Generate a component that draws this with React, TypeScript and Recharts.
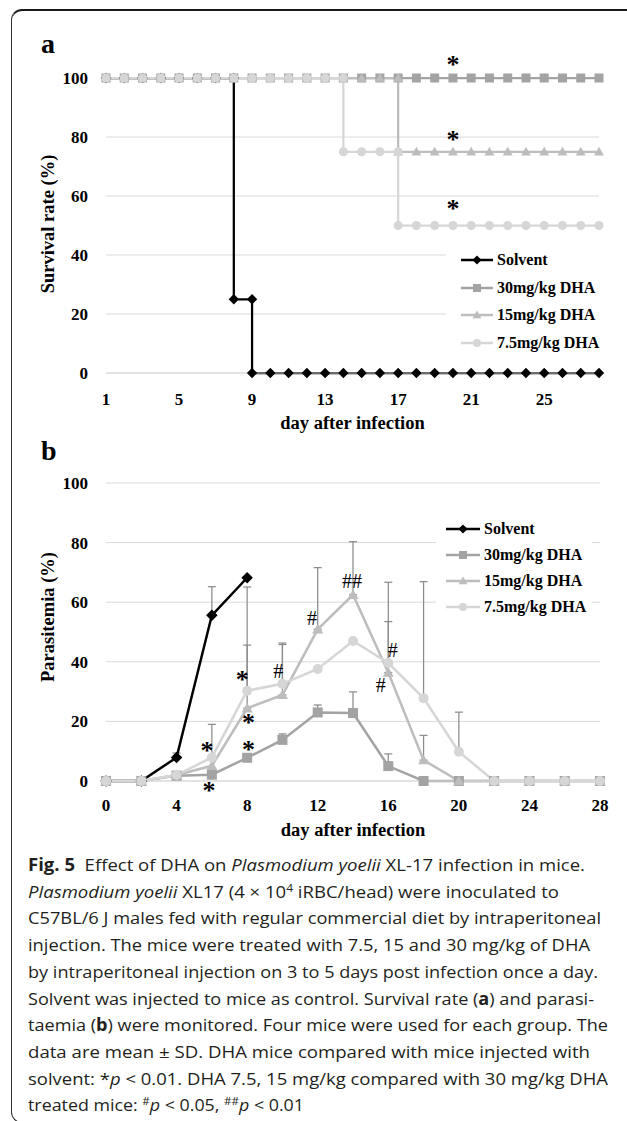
import { CartesianGrid, ErrorBar, Legend, Line, LineChart, ReferenceDot, XAxis, YAxis } from "recharts"

const seriesNames = ["Solvent", "30mg/kg DHA", "15mg/kg DHA", "7.5mg/kg DHA"]
const seriesColors = ["#000000", "#a3a3a3", "#bdbdbd", "#d6d6d6"]
const seriesShapes = ["diamond", "square", "triangle", "circle"]

// (a) survival, step points (a day appears twice where the curve drops)
const solventSurvivalDays = [1, 2, 3, 4, 5, 6, 7, 8, 8, 9, 9, 10, 11, 12, 13, 14, 15, 16, 17, 18, 19, 20, 21, 22, 23, 24, 25, 26, 27, 28]
const solventSurvivalRates = [100, 100, 100, 100, 100, 100, 100, 100, 25, 25, 0, 0, 0, 0, 0, 0, 0, 0, 0, 0, 0, 0, 0, 0, 0, 0, 0, 0, 0, 0]
const dha30SurvivalDays = [1, 2, 3, 4, 5, 6, 7, 8, 9, 10, 11, 12, 13, 14, 15, 16, 17, 18, 19, 20, 21, 22, 23, 24, 25, 26, 27, 28]
const dha30SurvivalRates = [100, 100, 100, 100, 100, 100, 100, 100, 100, 100, 100, 100, 100, 100, 100, 100, 100, 100, 100, 100, 100, 100, 100, 100, 100, 100, 100, 100]
const dha15SurvivalDays = [1, 2, 3, 4, 5, 6, 7, 8, 9, 10, 11, 12, 13, 14, 15, 16, 17, 17, 18, 19, 20, 21, 22, 23, 24, 25, 26, 27, 28]
const dha15SurvivalRates = [100, 100, 100, 100, 100, 100, 100, 100, 100, 100, 100, 100, 100, 100, 100, 100, 100, 75, 75, 75, 75, 75, 75, 75, 75, 75, 75, 75, 75]
const dha75SurvivalDays = [1, 2, 3, 4, 5, 6, 7, 8, 9, 10, 11, 12, 13, 14, 14, 15, 16, 17, 17, 18, 19, 20, 21, 22, 23, 24, 25, 26, 27, 28]
const dha75SurvivalRates = [100, 100, 100, 100, 100, 100, 100, 100, 100, 100, 100, 100, 100, 100, 75, 75, 75, 75, 50, 50, 50, 50, 50, 50, 50, 50, 50, 50, 50, 50]

const survivalTicksX = [1, 5, 9, 13, 17, 21, 25]
const percentTicks = [0, 20, 40, 60, 80, 100]
const survivalMarks = [
  { day: 20, value: 105.7, text: "*" },
  { day: 20, value: 80.4, text: "*" },
  { day: 20, value: 56.8, text: "*" },
]

// (b) parasitemia, mean and +SD
const parasiteDays = [0, 2, 4, 6, 8, 10, 12, 14, 16, 18, 20, 22, 24, 26, 28]
const solventParasitemia = [0, 0, 7.9, 55.6, 68.2]
const solventSD = [null, null, 1.5, 9.6, null]
const dha30Parasitemia = [0, 0, 1.8, 2.1, 7.8, 13.8, 23.0, 22.8, 5.0, 0, 0, 0, 0, 0, 0]
const dha30SD = [null, null, null, null, null, 2.0, 2.5, 7.1, 4.1, null, null, null, null, null, null]
const dha15Parasitemia = [0, 0, 2.0, 5.1, 24.4, 28.9, 50.9, 62.5, 36.4, 7.0, 0, 0, 0, 0, 0]
const dha15SD = [null, null, null, null, 21.2, 17.4, 20.7, 17.8, 30.3, 8.3, null, null, null, null, null]
const dha75Parasitemia = [0, 0, 2.0, 7.9, 30.3, 32.6, 37.6, 47.0, 39.6, 27.8, 9.8, 0, 0, 0, 0]
const dha75SD = [null, null, null, 11.1, 34.8, 13.2, null, null, 13.9, 39.1, 13.3, null, null, null, null]

const parasiteTicksX = [0, 4, 8, 12, 16, 20, 24, 28]
const parasiteMarks = [
  { day: 5.73, value: 11.4, text: "*" },
  { day: 5.84, value: -2.0, text: "*" },
  { day: 7.72, value: 35.0, text: "*" },
  { day: 8.07, value: 20.7, text: "*" },
  { day: 8.07, value: 11.5, text: "*" },
  { day: 9.77, value: 37.0, text: "#" },
  { day: 11.68, value: 54.6, text: "#" },
  { day: 13.95, value: 66.9, text: "##" },
  { day: 16.25, value: 44.0, text: "#" },
  { day: 15.57, value: 32.2, text: "#" },
]

const toPoints = (days: number[], values: number[], sd?: (number | null)[]) =>
  values.map((v, i) => ({ day: days[i], value: v, err: sd && sd[i] != null ? [0, sd[i]] : null }))

const survivalSeries = [
  toPoints(solventSurvivalDays, solventSurvivalRates),
  toPoints(dha30SurvivalDays, dha30SurvivalRates),
  toPoints(dha15SurvivalDays, dha15SurvivalRates),
  toPoints(dha75SurvivalDays, dha75SurvivalRates),
]
const parasiteSeries = [
  toPoints(parasiteDays, solventParasitemia, solventSD),
  toPoints(parasiteDays, dha30Parasitemia, dha30SD),
  toPoints(parasiteDays, dha15Parasitemia, dha15SD),
  toPoints(parasiteDays, dha75Parasitemia, dha75SD),
]

const serif = "'Liberation Serif', 'Times New Roman', serif"
const tickStyle = { fontSize: 17, fontWeight: 700, fill: "#000", fontFamily: serif }

function Marker({ shape, cx, cy, size, color }: any) {
  const h = size / 2
  if (shape === "diamond") {
    const d = h * 1.15
    return <polygon points={`${cx},${cy - d} ${cx + d},${cy} ${cx},${cy + d} ${cx - d},${cy}`} fill={color} />
  }
  if (shape === "square") return <rect x={cx - h} y={cy - h} width={size} height={size} fill={color} />
  if (shape === "triangle") {
    const t = h * 1.1
    return <polygon points={`${cx},${cy - t} ${cx + t},${cy + t * 0.75} ${cx - t},${cy + t * 0.75}`} fill={color} />
  }
  return <circle cx={cx} cy={cy} r={h} fill={color} />
}

function Glyph({ cx, cy, text }: any) {
  const star = text === "*"
  const fs = star ? 26 : 20
  return (
    <text
      x={cx} y={cy + fs * (star ? 0.45 : 0.34)} textAnchor="middle"
      fontFamily={serif} fontWeight={star ? 700 : 400} fontSize={fs} fill="#000" stroke="none"
    >
      {text}
    </text>
  )
}

function legendContent(rowHeight: number, padLeft: number, lineWidth: number) {
  return ({ payload }: any) => {
    const rows = [...(payload || [])].sort(
      (a: any, b: any) => seriesNames.indexOf(a.value) - seriesNames.indexOf(b.value),
    )
    return (
      <div style={{ background: "#fff", paddingLeft: padLeft }}>
        {rows.map((entry: any) => {
          const i = seriesNames.indexOf(entry.value)
          return (
            <div key={entry.value} style={{ display: "flex", alignItems: "center", height: rowHeight }}>
              <svg width={lineWidth} height={14}>
                <line x1={0} y1={7} x2={lineWidth} y2={7} stroke={seriesColors[i]} strokeWidth={2.5} />
                <Marker shape={seriesShapes[i]} cx={lineWidth / 2} cy={7} size={8} color={seriesColors[i]} />
              </svg>
              <span style={{ marginLeft: 4, fontFamily: serif, fontWeight: 700, fontSize: 16, lineHeight: 1, color: "#000" }}>
                {entry.value}
              </span>
            </div>
          )
        })}
      </div>
    )
  }
}

function AxisTitle({ text, left, top, width }: any) {
  return (
    <div style={{ position: "absolute", left, top, width, textAlign: "center", fontFamily: serif, fontWeight: 700, fontSize: 18.5, lineHeight: 1 }}>
      {text}
    </div>
  )
}

function YTitle({ text, cx, cy }: any) {
  return (
    <div
      style={{
        position: "absolute", left: cx, top: cy, transform: "translate(-50%, -50%) rotate(-90deg)",
        whiteSpace: "nowrap", fontFamily: serif, fontWeight: 700, fontSize: 18.5, lineHeight: 1,
      }}
    >
      {text}
    </div>
  )
}

function PanelLetter({ text, left, top }: any) {
  return (
    <div style={{ position: "absolute", left, top, fontFamily: serif, fontWeight: 700, fontSize: 28, lineHeight: 1 }}>{text}</div>
  )
}

function SurvivalChart() {
  return (
    <LineChart width={627} height={440} margin={{ top: 78, right: 28, bottom: 37, left: 46 }}>
      <CartesianGrid vertical={false} stroke="#d9d9d9" />
      <XAxis
        type="number" dataKey="day" domain={[1, 28]} ticks={survivalTicksX} height={30}
        tickLine={false} tickSize={0} tickMargin={20} axisLine={{ stroke: "#d9d9d9" }} tick={tickStyle}
      />
      <YAxis
        type="number" domain={[0, 100]} ticks={percentTicks} width={60}
        tickLine={false} tickSize={0} tickMargin={18} axisLine={false} tick={tickStyle}
      />
      {survivalSeries.map((data, i) => (
        <Line
          key={seriesNames[i]} data={data} dataKey="value" name={seriesNames[i]} type="linear"
          stroke={seriesColors[i]} strokeWidth={2.25} isAnimationActive={false}
          dot={(p: any) => <Marker key={`d${p.index}`} shape={seriesShapes[i]} cx={p.cx} cy={p.cy} size={9} color={seriesColors[i]} />}
          activeDot={false}
        />
      ))}
      {survivalMarks.map((m, i) => (
        <ReferenceDot key={i} x={m.day} y={m.value} r={1} ifOverflow="visible" shape={(p: any) => <Glyph cx={p.cx} cy={p.cy} text={m.text} />} />
      ))}
      <Legend
        layout="vertical" align="center" verticalAlign="middle"
        wrapperStyle={{ left: 446, top: 246, width: 170 }}
        content={legendContent(27.7, 15, 32)}
      />
    </LineChart>
  )
}

function ParasiteChart() {
  return (
    <LineChart width={627} height={420} margin={{ top: 43, right: 27, bottom: 49, left: 46 }}>
      <CartesianGrid vertical={false} stroke="#d9d9d9" />
      <XAxis
        type="number" dataKey="day" domain={[0, 28]} ticks={parasiteTicksX} height={30}
        tickLine={false} tickSize={0} tickMargin={18} axisLine={{ stroke: "#d9d9d9" }} tick={tickStyle}
      />
      <YAxis
        type="number" domain={[0, 100]} ticks={percentTicks} width={60}
        tickLine={false} tickSize={0} tickMargin={18} axisLine={false} tick={tickStyle}
      />
      {parasiteSeries.map((data, i) => (
        <Line
          key={seriesNames[i]} data={data} dataKey="value" name={seriesNames[i]} type="linear"
          stroke={seriesColors[i]} strokeWidth={2.5} isAnimationActive={false}
          dot={(p: any) => <Marker key={`d${p.index}`} shape={seriesShapes[i]} cx={p.cx} cy={p.cy} size={10} color={seriesColors[i]} />}
          activeDot={false}
        >
          <ErrorBar dataKey="err" direction="y" width={4} stroke="#8c8c8c" strokeWidth={1.25} />
        </Line>
      ))}
      {parasiteMarks.map((m, i) => (
        <ReferenceDot key={i} x={m.day} y={m.value} r={1} ifOverflow="visible" shape={(p: any) => <Glyph cx={p.cx} cy={p.cy} text={m.text} />} />
      ))}
      <Legend
        layout="vertical" align="center" verticalAlign="middle"
        wrapperStyle={{ left: 436, top: 76, width: 156 }}
        content={legendContent(25.9, 10, 34)}
      />
    </LineChart>
  )
}

const captionLines: { width: number; parts: [string, string][] }[] = [
  { width: 557, parts: [["b", "Fig. 5"], ["", "  Effect of DHA on "], ["i", "Plasmodium yoelii"], ["", " XL-17 infection in mice."]] },
  { width: 531, parts: [["i", "Plasmodium yoelii"], ["", " XL17 (4 \u00d7 10"], ["sup", "4"], ["", " iRBC/head) were inoculated to"]] },
  { width: 573, parts: [["", "C57BL/6 J males fed with regular commercial diet by intraperitoneal"]] },
  { width: 562, parts: [["", "injection. The mice were treated with 7.5, 15 and 30 mg/kg of DHA"]] },
  { width: 570, parts: [["", "by intraperitoneal injection on 3 to 5 days post infection once a day."]] },
  { width: 566, parts: [["", "Solvent was injected to mice as control. Survival rate ("], ["b", "a"], ["", ") and parasi-"]] },
  { width: 580, parts: [["", "taemia ("], ["b", "b"], ["", ") were monitored. Four mice were used for each group. The"]] },
  { width: 562, parts: [["", "data are mean \u00b1 SD. DHA mice compared with mice injected with"]] },
  { width: 580, parts: [["", "solvent: *"], ["i", "p"], ["", " < 0.01. DHA 7.5, 15 mg/kg compared with 30 mg/kg DHA"]] },
  { width: 276, parts: [["", "treated mice: "], ["sup", "#"], ["i", "p"], ["", " < 0.05, "], ["sup", "##"], ["i", "p"], ["", " < 0.01"]] },
]

function Caption() {
  return (
    <svg width={627} height={271} style={{ position: "absolute", left: 0, top: 850 }}>
      {captionLines.map((line, li) => {
        let raised = false
        return (
          <text
            key={li} x={28} y={21 + li * 26.7} textLength={line.width} lengthAdjust="spacingAndGlyphs"
            fontFamily="'Open Sans', 'Noto Sans', sans-serif" fontSize={17} fill="#231f20" xmlSpace="preserve"
          >
            {line.parts.map(([kind, str], pi) => {
              const dy = kind === "sup" ? (raised ? 0 : -6) : raised ? 6 : 0
              raised = kind === "sup"
              return (
                <tspan
                  key={pi} dy={dy}
                  fontWeight={kind === "b" ? 700 : 400}
                  fontStyle={kind === "i" ? "italic" : "normal"}
                  fontSize={kind === "sup" ? 11 : 17}
                >
                  {str}
                </tspan>
              )
            })}
          </text>
        )
      })}
    </svg>
  )
}

export default function App() {
  return (
    <div style={{ position: "absolute", left: 0, top: 0, width: 627, height: 1121, background: "#fff", overflow: "hidden" }}>
      <div
        style={{
          position: "absolute", left: 11, top: 9, width: 700, height: 1111,
          borderTop: "2px solid #1a1a1a", borderLeft: "1.5px solid #333", borderBottom: "1.5px solid #333", borderRadius: 11,
        }}
      />
      <div style={{ position: "absolute", left: 0, top: 0 }}>
        <SurvivalChart />
      </div>
      <div style={{ position: "absolute", left: 0, top: 440 }}>
        <ParasiteChart />
      </div>
      <PanelLetter text="a" left={41} top={30} />
      <PanelLetter text="b" left={41} top={437} />
      <YTitle text="Survival rate (%)" cx={48} cy={224} />
      <YTitle text="Parasitemia (%)" cx={48} cy={617} />
      <AxisTitle text="day after infection" left={106} width={493} top={414} />
      <AxisTitle text="day after infection" left={106} width={494} top={821} />
      <Caption />
    </div>
  )
}
